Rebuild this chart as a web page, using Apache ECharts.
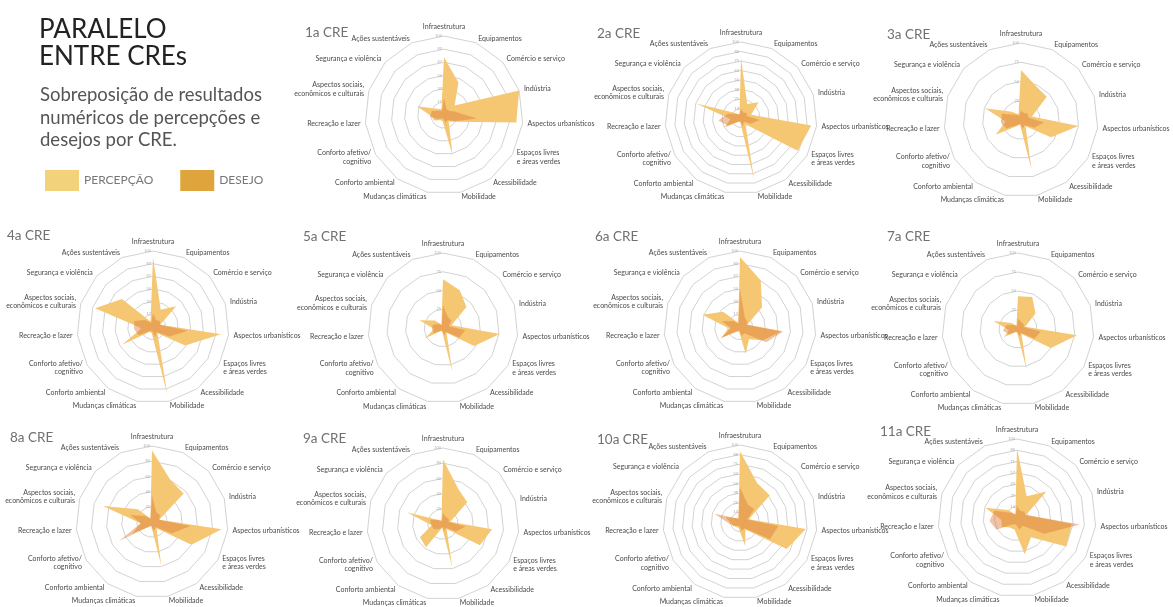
<!DOCTYPE html>
<html><head><meta charset="utf-8">
<script src="https://cdn.jsdelivr.net/npm/echarts@6/dist/echarts.min.js"></script>
<style>html,body{margin:0;padding:0;background:#fff}#c{width:1173px;height:607px}</style>
</head><body><div id="c"></div>
<script>
// Axes, clockwise from the top
const categories = ['Infraestrutura','Equipamentos','Comércio e serviço','Indústria','Aspectos urbanísticos',
  'Espaços livres\ne áreas verdes','Acessibilidade','Mobilidade','Mudanças climáticas','Conforto ambiental',
  'Conforto afetivo/\ncognitivo','Recreação e lazer','Aspectos sociais,\neconômicos e culturais','Segurança e violência','Ações sustentáveis'];
const chartNames = ['1a CRE','2a CRE','3a CRE','4a CRE','5a CRE','6a CRE','7a CRE','8a CRE','9a CRE','10a CRE','11a CRE'];
const seriesNames = ['PERCEPÇÃO','DESEJO'];

// values (0-100), same order as categories
const percepcao1a = [73,45,18,100,92,17,10,52,8,8,14,16,36,12,8];
const desejo1a    = [22,8,8,14,42,16,8,10,5,5,10,18,16,8,6];
const percepcao2a = [79,20,31,14,93,86,10,83,5,6,25,14,62,10,5];
const desejo2a    = [12,8,10,8,25,15,6,12,5,6,20,30,18,8,5];
const percepcao3a = [65,48,45,15,75,45,10,66,6,10,38,20,49,16,8];
const desejo3a    = [12,10,12,10,30,20,8,12,5,8,22,26,26,10,6];
const percepcao4a = [92,25,41,10,90,49,10,91,8,8,47,15,80,55,8];
const desejo4a    = [18,10,12,10,46,25,8,14,5,6,22,25,26,14,6];
const percepcao5a = [65,55,42,12,76,48,8,60,5,5,28,12,33,15,5];
const desejo5a    = [30,16,15,8,30,25,6,10,4,4,14,15,14,8,4];
const percepcao6a = [92,67,39,10,55,35,20,36,6,8,28,15,52,30,6];
const desejo6a    = [50,15,12,10,57,40,10,12,5,6,30,12,25,12,5];
const percepcao7a = [43,46,31,10,78,50,8,54,5,5,21,12,34,12,5];
const desejo7a    = [14,10,10,8,30,25,6,10,4,5,14,20,16,8,4];
const percepcao8a = [94,60,56,10,92,60,10,59,5,8,30,15,68,25,5];
const desejo8a    = [35,14,14,10,51,30,8,12,5,8,50,15,30,12,5];
const percepcao9a = [85,50,43,10,65,56,8,59,5,38,35,15,50,8,5];
const desejo9a    = [14,10,10,8,30,20,6,10,4,8,14,15,18,8,4];
const percepcao10a = [92,55,52,12,86,70,12,32,8,8,10,12,20,8,5];
const desejo10a    = [45,25,25,10,50,45,10,12,5,6,10,15,35,8,5];
const percepcao11a = [88,30,50,12,70,72,30,47,15,15,22,20,42,15,5];
const desejo11a    = [15,10,12,12,80,40,12,15,8,10,30,35,30,10,5];

const percepcao = [percepcao1a,percepcao2a,percepcao3a,percepcao4a,percepcao5a,percepcao6a,percepcao7a,percepcao8a,percepcao9a,percepcao10a,percepcao11a];
const desejo = [desejo1a,desejo2a,desejo3a,desejo4a,desejo5a,desejo6a,desejo7a,desejo8a,desejo9a,desejo10a,desejo11a];

// layout (positions only)
const layout = [
  {c:[444,115], r:79, split:6, t:[300,21]},
  {c:[741,118], r:76, split:8, t:[592,22]},
  {c:[1021,120], r:77, split:4, t:[882,23]},
  {c:[153,327], r:76, split:6, t:[2,224]},
  {c:[443,328], r:75, split:4, t:[298,225]},
  {c:[740,327], r:76, split:6, t:[590,225]},
  {c:[1018,329], r:76, split:4, t:[882,225]},
  {c:[152,522], r:76, split:5, t:[5,426]},
  {c:[443,524], r:76, split:5, t:[298,427]},
  {c:[740,522], r:77, split:8, t:[592,428]},
  {c:[1017,518], r:79, split:7, t:[875,420]}
];

const FONT = 'Lato, "Open Sans", sans-serif';
// ECharts lays radar axes counter-clockwise; reorder to read clockwise
const order = [0,14,13,12,11,10,9,8,7,6,5,4,3,2,1];
const reorder = a => order.map(i => a[i]);

const radars = [], series = [];
const titles = [
  {text:'PARALELO\nENTRE CREs', left:34, top:11,
   textStyle:{fontFamily:FONT, fontSize:26, fontWeight:'normal', color:'#222', lineHeight:27}},
  {text:'Sobreposição de resultados\nnuméricos de percepções e\ndesejos por CRE.', left:35, top:79,
   textStyle:{fontFamily:FONT, fontSize:18.5, fontWeight:'normal', color:'#555', lineHeight:22.5}}
];

layout.forEach((L, k) => {
  titles.push({text:chartNames[k], left:L.t[0], top:L.t[1],
    textStyle:{fontFamily:FONT, fontSize:13.5, fontWeight:'normal', color:'#707070'}});
  radars.push({
    center:L.c, radius:L.r, startAngle:90, shape:'polygon', splitNumber:L.split,
    indicator: reorder(categories).map((name,i) => i===0 ? {name, min:0, max:100, axisLabel:{show:true}} : {name, min:0, max:100}),
    axisName:{color:'#4a4a4a', fontSize:7, fontFamily:FONT, lineHeight:8.5},
    nameGap:5,
    splitLine:{lineStyle:{color:'#c6c6c6', width:0.8}},
    splitArea:{show:false},
    axisLine:{show:false},
    axisTick:{show:false},
    axisLabel:{show:false, fontSize:4, color:'#aaa', margin:2, formatter: v => Math.round(v)},
    silent:true
  });
  series.push({
    type:'radar', radarIndex:k, symbol:'none', silent:true,
    data:[
      {name:seriesNames[0], value:reorder(percepcao[k]), lineStyle:{opacity:0, width:0},
       areaStyle:{color:'#F5C772', opacity:1}, itemStyle:{color:'#F3D27C'}},
      {name:seriesNames[1], value:reorder(desejo[k]), lineStyle:{opacity:0, width:0},
       areaStyle:{color:'rgba(222,122,58,0.45)', opacity:1}, itemStyle:{color:'#E0A43C'}}
    ]
  });
});

const chart = echarts.init(document.getElementById('c'), null, {renderer:'canvas'});
chart.setOption({
  animation:false,
  backgroundColor:'#fff',
  title:titles,
  legend:{left:40, top:165, icon:'rect', itemWidth:34, itemHeight:21, itemGap:27, selectedMode:false,
    textStyle:{fontFamily:FONT, fontSize:12, color:'#777'},
    data:[{name:seriesNames[0], itemStyle:{color:'#F3D27C'}}, {name:seriesNames[1], itemStyle:{color:'#E0A43C'}}]},
  radar:radars,
  series:series
});
</script></body></html>
